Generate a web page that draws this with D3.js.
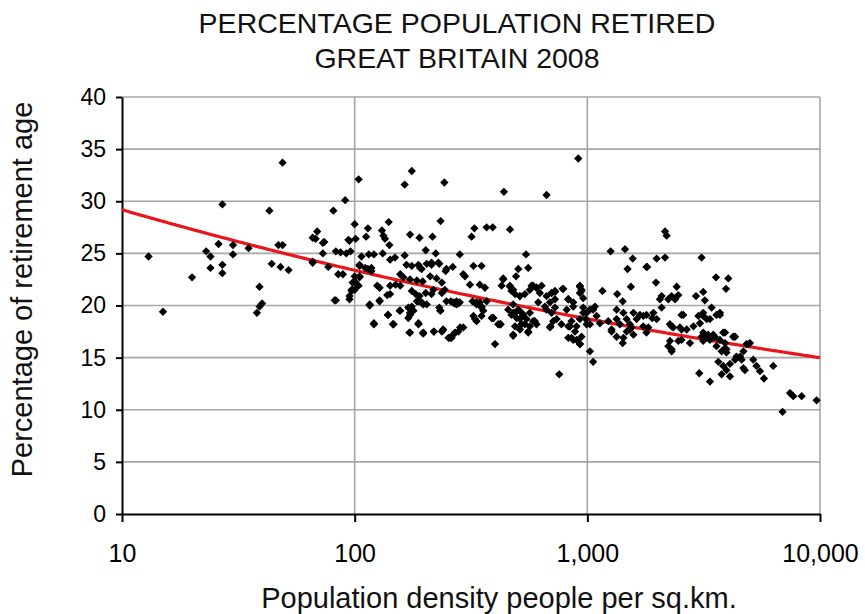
<!DOCTYPE html>
<html>
<head>
<meta charset="utf-8">
<script src="https://cdn.jsdelivr.net/npm/d3@7"></script>
<style>
  html, body { margin: 0; padding: 0; background: #fff; }
  svg { display: block; font-family: "Liberation Sans", Arial, sans-serif; }
</style>
</head>
<body>
<svg id="chart" width="865" height="614"></svg>
<script>
// ---- chart data ----
const titleLines = ["PERCENTAGE POPULATION RETIRED", "GREAT BRITAIN 2008"];
const xAxisTitle = "Population density people per sq.km.";
const yAxisTitle = "Percentage of retirement age";
const xTickValues = [10, 100, 1000, 10000];
const yTickValues = [0, 5, 10, 15, 20, 25, 30, 35, 40];
// Power trendline  y = coef * x^exponent
const trendCoef = 36.44;
const trendExponent = -0.0964;

// [population density (people per sq.km), % of population at retirement age]
const observations = [
  [13,24.7],[15,19.4],[20,22.7],[23,25.2],[24,24.7],[24,23.6],[26,25.9],[27,29.7],[27,23.9],[27,23.1],
  [30,25.8],[30,24.9],[35,25.5],[39,21.8],[40,20.2],[39,19.9],[38,19.3],[43,29.1],[44,24.0],[47,25.8],
  [49,25.8],[48,23.7],[52,23.4],[49,33.7],[66,24.2],[69,27.1],[68,26.4],[74,26.1],[73,25.0],[77,23.7],
  [81,29.1],[91,30.1],[83,20.5],[95,20.6],[85,23.0],[89,23.0],[83,25.2],[87,25.1],[92,25.0],[96,25.2],
  [100,27.8],[95,26.2],[101,26.4],[100,22.3],[98,21.5],[104,32.1],
  [176,32.9],[164,31.6],[243,31.8],[140,28.0],[114,27.4],[131,27.2],[234,28.1],[327,27.4],[369,27.5],[392,27.5],
  [173,26.8],[190,26.5],[216,26.6],[318,26.6],[112,26.6],[133,26.7],[135,26.4],[94,26.3],[66,26.5],[73,26.0],
  [141,25.8],[202,25.3],[223,25.0],[283,24.9],[164,24.8],[115,24.9],[121,24.9],[132,25.0],[107,24.7],[142,24.4],
  [149,24.6],[66,24.1],[167,23.9],[176,23.8],[191,23.6],[204,24.0],[214,23.9],[231,24.0],[264,23.7],[324,23.8],
  [351,23.8],[105,23.8],[114,23.5],[118,23.6],[100,22.8],[105,22.8],[157,23.0],[162,22.7],[173,22.5],[185,22.4],
  [196,22.3],[211,22.8],[225,22.6],[246,23.3],[293,23.0],[298,22.8],[313,22.0],[345,22.0],[363,21.7],[98,22.2],
  [104,21.9],[125,21.9],[128,21.7],[142,21.9],[150,22.0],[157,21.9],[97,21.4],[100,21.5],[142,21.1],[138,21.0],
  [176,21.4],[183,21.1],[190,20.9],[202,21.2],[214,21.1],[218,21.5],[237,21.2],[259,20.4],[274,20.4],[283,20.3],
  [268,20.2],[274,20.1],[321,20.4],[334,20.1],[345,20.3],[351,19.9],[116,20.1],[128,20.5],[185,20.4],[194,20.3],
  [204,20.1],[170,19.8],[173,19.3],[179,19.5],[231,19.8],[234,19.5],[139,19.1],[157,19.5],[121,18.2],[146,18.2],
  [188,18.3],[172,17.4],[197,17.4],[219,17.5],[239,17.6],[265,17.2],[279,17.5],[293,17.9],[257,16.9],[329,18.7],
  [351,19.0],[388,18.8],[414,18.2],[401,16.3],
  [105,23.9],[111,23.6],[118,23.3],[105,22.7],[100,22.3],[102,22.0],[97,21.5],[95,20.9],
  [237,22.2],[244,21.5],[194,23.5],[188,23.9],[214,24.1],[229,24.1],[248,23.5],
  [116,20.0],[128,20.4],[139,19.1],[156,19.5],[170,18.8],[173,19.1],[176,19.9],[188,20.4],[197,20.1],[121,18.3],
  [147,18.2],[173,17.4],[188,18.2],[197,17.3],[219,17.5],[237,17.5],[233,19.5],[253,16.9],[82,20.5],
  [914,34.1],[438,30.9],[668,30.6],[465,27.3],[545,24.9],[557,23.6],[505,23.5],[494,22.8],[435,22.6],[465,21.9],
  [480,21.5],[576,21.9],[605,21.7],[636,21.9],[513,20.9],[539,21.1],[702,21.2],[726,21.4],[783,21.6],[929,21.9],
  [944,21.5],[929,21.2],[1161,21.4],[1344,21.1],[1419,20.4],[828,20.6],[870,20.3],[615,20.3],[657,19.9],[480,20.1],
  [505,19.6],[522,19.3],[480,19.3],[497,18.8],[357,19.5],[394,18.8],[566,19.3],[585,18.5],[539,18.2],[557,17.5],
  [489,18.0],[480,17.2],[424,18.2],[738,18.7],[695,18.0],[774,18.2],[841,18.0],[828,16.9],[870,16.7],[929,16.3],
  [960,19.3],[1026,19.6],[1078,19.9],[1026,18.2],[986,18.7],[1133,18.3],[1230,18.5],[1026,15.6],[1059,14.6],[757,13.4],
  [435,22.5],[428,21.9],[465,21.8],[472,21.4],[489,21.1],[513,20.9],[566,21.5],[585,21.9],[605,21.7],[625,21.2],
  [668,20.9],[726,21.3],[789,21.6],[929,21.8],[944,21.4],[960,20.7],[828,20.6],[726,20.6],[691,20.3],
  [248,20.4],[265,20.3],[279,20.2],[334,20.3],[351,19.8],[369,20.4],[457,19.6],[472,19.1],[489,19.3],[505,19.6],
  [530,19.1],[513,18.7],[521,18.2],[548,18.7],[566,18.0],[595,18.5],[668,19.6],[702,19.3],[726,19.8],[815,19.6],
  [870,19.9],[960,19.8],[993,19.3],[1059,19.6],[1096,19.0],[929,18.7],[855,18.5],[828,18.0],[899,18.0],[993,18.2],
  [261,16.9],[270,17.4],[284,17.9],[240,17.7],[324,19.0],[334,18.5],[394,18.8],[422,18.2],[480,17.1],[513,17.7],
  [557,17.4],[605,18.2],[691,17.9],[713,18.5],[841,18.0],[885,17.5],[855,16.9],[899,16.7],[929,16.3],[944,17.0],
  [1259,25.2],[1452,25.4],[1567,24.5],[1489,23.5],[1795,23.7],[1986,24.5],[1972,22.2],[1539,21.8],[1336,19.6],[1429,19.3],
  [1336,18.7],[1476,18.7],[1271,17.5],[1336,17.0],[1419,16.4],[1476,17.5],[1549,17.9],[1629,18.7],[1795,17.4],[1578,19.3],
  [1683,19.1],[1923,19.3],[1986,18.7],[1380,18.2],[1524,18.2],[1795,19.1],[1900,18.8],[1740,18.0],
  [1271,17.7],[1429,16.9],[1524,17.7],[1578,17.2],[1741,19.0],[1828,17.9],
  [2158,27.1],[2193,26.7],[2158,24.6],[1807,23.7],[3098,24.6],[3573,22.7],[4036,22.6],[3945,21.6],[2421,21.8],[2460,21.0],
  [2303,20.9],[2228,20.6],[2382,20.6],[2086,20.9],[2051,20.6],[2086,19.8],[2931,20.9],[3148,21.3],[3199,20.5],[3420,19.8],
  [3715,19.1],[3148,19.0],[3048,18.3],[3365,18.7],[2540,19.1],[2265,18.2],[2339,17.9],[2500,17.9],[2540,17.7],[2761,16.4],
  [2265,16.6],[2228,16.1],[2303,15.6],[3098,17.0],[3304,17.2],[3148,16.6],[3365,16.7],[3532,17.0],[3715,16.7],[3908,17.4],
  [4315,17.0],[3589,16.1],[3776,15.6],[3963,15.5],[3908,15.9],[4315,14.8],[4533,15.1],[4686,15.6],[4920,16.3],[3656,14.6],
  [3837,14.2],[4102,14.4],[3963,13.8],[4102,13.2],[3776,13.4],[3365,12.7],[3027,13.5],[4686,14.0],[4753,13.8],[5333,14.2],
  [5520,13.7],[5742,13.0],[6295,14.2],[7433,11.6],[7674,11.3],[8337,11.3],[9669,10.9],[6902,9.8],
  [2303,15.8],[2460,16.6],[2540,16.7],[2584,19.1],[2303,18.0],[2673,17.7],[2858,18.0],[3000,19.0],[3148,19.3],[3258,18.7],
  [3589,19.1],[3715,19.3],[3148,17.4],[3199,16.9],[3475,17.2],[3837,17.4],[3908,16.4],[3963,15.8],[4236,17.0],[4375,15.1],
  [4604,14.8],[4830,16.3],[5000,16.4],[5164,14.8]
];

// ---- layout ----
const svg = d3.select("#chart");
const W = 865, H = 614;
const margin = { left: 122, right: 45, top: 97, bottom: 100 };
const plotW = W - margin.left - margin.right;
const plotH = H - margin.top - margin.bottom;

const x = d3.scaleLog().domain([10, 10000]).range([margin.left, margin.left + plotW]);
const y = d3.scaleLinear().domain([0, 40]).range([margin.top + plotH, margin.top]);

const gridColor = "#a6a6a6";

// gridlines
svg.append("g").selectAll("line.hg").data(yTickValues.filter(v => v > 0)).join("line")
  .attr("x1", margin.left).attr("x2", margin.left + plotW)
  .attr("y1", d => y(d)).attr("y2", d => y(d))
  .attr("stroke", gridColor).attr("stroke-width", 1.6);
svg.append("g").selectAll("line.vg").data(xTickValues.filter(v => v > 10)).join("line")
  .attr("x1", d => x(d)).attr("x2", d => x(d))
  .attr("y1", margin.top).attr("y2", margin.top + plotH)
  .attr("stroke", gridColor).attr("stroke-width", 1.6);

// axes
const fmt = d3.format(",");
const xAxis = svg.append("g")
  .attr("transform", `translate(0,${margin.top + plotH})`)
  .call(d3.axisBottom(x).tickValues(xTickValues).tickFormat(fmt).tickSizeInner(8).tickSizeOuter(0).tickPadding(22));
const yAxis = svg.append("g")
  .attr("transform", `translate(${margin.left},0)`)
  .call(d3.axisLeft(y).tickValues(yTickValues).tickSizeInner(6).tickSizeOuter(0).tickPadding(10));
[xAxis, yAxis].forEach(g => {
  g.select(".domain").attr("stroke", "#000").attr("stroke-width", 2);
  g.selectAll(".tick line").attr("stroke", "#000").attr("stroke-width", 2);
  g.selectAll(".tick text").attr("fill", "#000")
    .style("font-family", '"Liberation Sans", Arial, sans-serif');
});
xAxis.selectAll(".tick text").style("font-size", "25px");
yAxis.selectAll(".tick text").style("font-size", "23px");

// trendline (power fit)
const trendX = d3.range(0, 301).map(i => Math.pow(10, 1 + 3 * i / 300));
svg.append("path")
  .datum(trendX)
  .attr("fill", "none").attr("stroke", "#e8151b").attr("stroke-width", 3.2)
  .attr("d", d3.line().x(d => x(d)).y(d => y(trendCoef * Math.pow(d, trendExponent))));

// points
svg.append("g").selectAll("path.pt").data(observations).join("path")
  .attr("transform", d => `translate(${x(d[0])},${y(d[1])})`)
  .attr("d", d3.symbol(d3.symbolDiamond2, 44))
  .attr("fill", "#000");

// titles
svg.append("g").selectAll("text").data(titleLines).join("text")
  .attr("x", 457).attr("y", (d, i) => 33 + i * 35)
  .attr("text-anchor", "middle").style("font-size", "28.5px").attr("fill", "#111")
  .text(d => d);

svg.append("text").attr("x", 499).attr("y", 608).attr("text-anchor", "middle")
  .style("font-size", "29px").attr("fill", "#111").text(xAxisTitle);

svg.append("text").attr("transform", `translate(32,${margin.top + plotH / 2 - 16}) rotate(-90)`)
  .attr("text-anchor", "middle").style("font-size", "29px").attr("fill", "#111").text(yAxisTitle);
</script>
</body>
</html>
